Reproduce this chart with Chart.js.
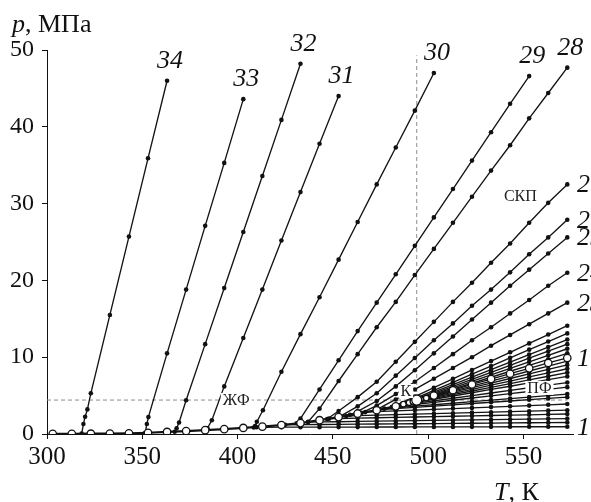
<!DOCTYPE html>
<html>
<head>
<meta charset="utf-8">
<script src="https://cdn.jsdelivr.net/npm/chart.js@4.4.0/dist/chart.umd.min.js"></script>
<style>
  html, body { margin: 0; padding: 0; background: #fff; }
  #wrap { width: 591px; height: 502px; position: relative; }
</style>
</head>
<body>
<div id="wrap"><canvas id="isochoreChart"></canvas></div>
<script>
// axis ticks
const tempTicks = [300, 350, 400, 450, 500, 550];
const pressTicks = [0, 10, 20, 30, 40, 50];

// saturation line (white circles), T in K, p in MPa
const satT = [303, 313, 323, 333, 343, 353, 363, 373, 383, 393, 403, 413, 423, 433, 443, 453, 463, 473, 483, 487, 490, 492, 494];
const satP = [0.01, 0.02, 0.04, 0.06, 0.1, 0.16, 0.27, 0.38, 0.5, 0.63, 0.79, 0.96, 1.17, 1.42, 1.8, 2.2, 2.65, 3.1, 3.6, 3.88, 4.08, 4.23, 4.42];

// critical point K
const critT = 494;
const critP = 4.42;

// isochores 1..34, [T, p]
const curve1 = [[410,0.88],[413,0.88],[423,0.89],[433,0.89],[443,0.89],[453,0.9],[463,0.9],[473,0.91],[483,0.91],[493,0.92],[503,0.92],[513,0.92],[523,0.93],[533,0.93],[543,0.94],[553,0.94],[563,0.95],[573,0.95]];
const curve2 = [[425,1.2],[433,1.22],[443,1.24],[453,1.26],[463,1.28],[473,1.3],[483,1.32],[493,1.34],[503,1.36],[513,1.38],[523,1.4],[533,1.42],[543,1.44],[553,1.46],[563,1.48],[573,1.5]];
const curve3 = [[437,1.55],[443,1.57],[453,1.6],[463,1.64],[473,1.67],[483,1.7],[493,1.74],[503,1.77],[513,1.8],[523,1.83],[533,1.87],[543,1.9],[553,1.93],[563,1.97],[573,2.0]];
const curve4 = [[448,2.0],[453,2.02],[463,2.07],[473,2.12],[483,2.17],[493,2.22],[503,2.26],[513,2.31],[523,2.36],[533,2.41],[543,2.46],[553,2.5],[563,2.55],[573,2.6]];
const curve5 = [[457,2.35],[463,2.39],[473,2.45],[483,2.52],[493,2.58],[503,2.65],[513,2.71],[523,2.78],[533,2.84],[543,2.91],[553,2.97],[563,3.04],[573,3.1]];
const curve6 = [[467,2.85],[473,2.91],[483,3.01],[493,3.11],[503,3.21],[513,3.31],[523,3.4],[533,3.5],[543,3.6],[553,3.7],[563,3.8],[573,3.9]];
const curve7 = [[474,3.15],[483,3.3],[493,3.47],[503,3.63],[513,3.8],[523,3.97],[533,4.13],[543,4.3],[553,4.47],[563,4.63],[573,4.8]];
const curve8 = [[477,3.3],[483,3.42],[493,3.62],[503,3.81],[513,4.01],[523,4.21],[533,4.41],[543,4.61],[553,4.8],[563,5.0],[573,5.2]];
const curve9 = [[481,3.5],[483,3.56],[493,3.84],[503,4.12],[513,4.4],[523,4.69],[533,4.97],[543,5.25],[553,5.53],[563,5.82],[573,6.1]];
const curve10 = [[484,3.67],[493,3.98],[503,4.32],[513,4.66],[523,5.0],[533,5.34],[543,5.68],[553,6.02],[563,6.36],[573,6.7]];
const curve11 = [[486,3.8],[493,4.1],[503,4.52],[513,4.95],[523,5.37],[533,5.8],[543,6.22],[553,6.65],[563,7.07],[573,7.5]];
const curve12 = [[488,3.92],[493,4.16],[503,4.64],[513,5.12],[523,5.6],[533,6.08],[543,6.56],[553,7.04],[563,7.52],[573,8.0]];
const curve13 = [[489.5,4.03],[493,4.22],[503,4.75],[513,5.29],[523,5.82],[533,6.36],[543,6.89],[553,7.43],[563,7.96],[573,8.5]];
const curve14 = [[491,4.15],[493,4.27],[503,4.86],[513,5.45],[523,6.04],[533,6.63],[543,7.23],[553,7.82],[563,8.41],[573,9.0]];
const curve15 = [[492.5,4.25],[493,4.28],[503,4.93],[513,5.58],[523,6.24],[533,6.89],[543,7.54],[553,8.2],[563,8.85],[573,9.5]];
// critical isochore (white circles)
const curve16 = [[494,4.42],[496,4.52],[499,4.68],[503,5.0],[513,5.7],[523,6.45],[533,7.15],[543,7.85],[553,8.55],[563,9.25],[573,9.9]];
const curve17 = [[492,4.2],[493,4.28],[503,5.06],[513,5.83],[523,6.61],[533,7.39],[543,8.17],[553,8.94],[563,9.72],[573,10.5]];
const curve18 = [[490,4.05],[493,4.3],[503,5.15],[513,6.0],[523,6.85],[533,7.7],[543,8.55],[553,9.4],[563,10.25],[573,11.1]];
const curve19 = [[488.5,3.95],[493,4.36],[503,5.28],[513,6.2],[523,7.11],[533,8.03],[543,8.95],[553,9.87],[563,10.78],[573,11.7]];
const curve20 = [[486.5,3.82],[493,4.46],[503,5.44],[513,6.42],[523,7.4],[533,8.38],[543,9.36],[553,10.34],[563,11.32],[573,12.3]];
const curve21 = [[484,3.65],[493,4.61],[503,5.67],[513,6.73],[523,7.79],[533,8.85],[543,9.91],[553,10.98],[563,12.04],[573,13.1]];
const curve22 = [[481,3.5],[483,3.73],[493,4.88],[503,6.03],[513,7.19],[523,8.34],[533,9.49],[543,10.64],[553,11.8],[563,12.95],[573,14.1]];
const curve23 = [[472,3.05],[483,4.5],[493,5.8],[503,7.2],[513,8.6],[523,10.0],[533,11.5],[543,12.9],[553,14.3],[563,15.7],[573,17.1]];
const curve24 = [[465,2.75],[473,3.7],[483,5.2],[493,6.8],[503,8.6],[513,10.4],[523,12.2],[533,13.9],[543,15.7],[553,17.45],[563,19.3],[573,21.0]];
const curve25 = [[459,2.5],[463,2.95],[473,4.3],[483,6.2],[493,8.3],[503,10.5],[513,12.7],[523,14.9],[533,17.1],[543,19.3],[553,21.4],[563,23.5],[573,25.6]];
const curve26 = [[453,2.2],[463,3.6],[473,5.3],[483,7.6],[493,9.9],[503,12.2],[513,14.4],[523,16.7],[533,18.8],[543,21.05],[553,23.4],[563,25.6],[573,27.9]];
const curve27 = [[447,1.95],[453,3.0],[463,4.8],[473,6.8],[483,9.4],[493,12.0],[503,14.6],[513,17.2],[523,19.7],[533,22.3],[543,24.8],[553,27.5],[563,30.1],[573,32.5]];
const curve28 = [[437,1.6],[443,3.3],[453,6.9],[463,10.4],[473,13.9],[483,17.2],[493,20.7],[503,24.1],[513,27.5],[523,30.9],[533,34.3],[543,37.6],[553,41.1],[563,44.4],[573,47.7]];
const curve29 = [[431,1.4],[433,2.0],[443,5.8],[453,9.6],[463,13.4],[473,17.1],[483,20.8],[493,24.5],[503,28.2],[513,31.9],[523,35.6],[533,39.3],[543,43.0],[553,46.6]];
const curve30 = [[408.5,0.85],[409.2,1.05],[410.1,1.6],[413.3,3.1],[423,8.1],[433,13.0],[443,17.8],[453,22.7],[463,27.6],[473,32.5],[483,37.3],[493,42.1],[503,47.0]];
const curve31 = [[383.5,0.5],[384.2,0.75],[386.5,1.8],[393,6.2],[403,12.5],[413,18.8],[423,25.2],[433,31.5],[443,37.8],[453,44.0]];
const curve32 = [[367,0.3],[368,0.75],[369.3,1.5],[373,4.4],[383,11.7],[393,19.0],[403,26.3],[413,33.6],[423,40.9],[433,48.2]];
const curve33 = [[351.5,0.17],[352.4,1.3],[353.2,2.2],[363,10.5],[373,18.8],[383,27.1],[393,35.3],[403,43.6]];
const curve34 = [[318.2,0.05],[319.1,1.3],[320,2.25],[321.2,3.2],[323,5.3],[333,15.5],[343,25.7],[353,35.9],[363,46.0]];

const curves = [curve1, curve2, curve3, curve4, curve5, curve6, curve7, curve8, curve9, curve10,
  curve11, curve12, curve13, curve14, curve15, curve16, curve17, curve18, curve19, curve20,
  curve21, curve22, curve23, curve24, curve25, curve26, curve27, curve28, curve29, curve30,
  curve31, curve32, curve33, curve34];

// which curves get a number label, and where
const topLabelNums = [28, 29, 30, 31, 32, 33, 34];
const rightLabelNums = [1, 16, 23, 24, 25, 26, 27];

const SERIF = '"Liberation Serif", "DejaVu Serif", serif';
const LINE = '#141414';

function toXY(pairs) {
    return pairs.map(([T, p]) => ({ x: T, y: p }));
}

const datasets = [];

// dashed guides through K
datasets.push({
    data: [{ x: 300, y: critP }, { x: 573, y: critP }],
    showLine: true, borderColor: '#8c8c8c', borderWidth: 1, borderDash: [4, 3],
    pointRadius: 0, order: 5
});
datasets.push({
    data: [{ x: critT, y: 0 }, { x: critT, y: 49.3 }],
    showLine: true, borderColor: '#8c8c8c', borderWidth: 1, borderDash: [4, 3],
    pointRadius: 0, order: 5
});

curves.forEach((c, i) => {
    const isCrit = (i === 15);
    datasets.push({
        data: toXY(c),
        showLine: true,
        borderColor: LINE,
        borderWidth: 1.35,
        pointRadius: isCrit ? function(ctx) {
            const T = c[ctx.dataIndex][0];
            if (T === critT) return 5;
            if (T < 500) return 2.8;
            return 3.7;
        } : 2.3,
        pointBackgroundColor: isCrit ? '#fff' : '#111',
        pointBorderColor: '#111',
        pointBorderWidth: isCrit ? 1.3 : 0,
        order: isCrit ? 1 : 3
    });
});

// saturation curve
datasets.push({
    data: satT.map((T, i) => ({ x: T, y: satP[i] })),
    showLine: true,
    borderColor: '#111',
    borderWidth: 2.2,
    pointRadius: function(ctx) {
        const T = satT[ctx.dataIndex];
        if (T === critT) return 5;
        if (T > 484) return 2.8;
        return 3.7;
    },
    pointBackgroundColor: '#fff',
    pointBorderColor: '#111',
    pointBorderWidth: 1.3,
    order: 0
});

function boxedText(ctx, text, cx, cy, font) {
    ctx.font = font;
    const w = ctx.measureText(text).width;
    ctx.fillStyle = '#fff';
    ctx.fillRect(cx - w / 2 - 2, cy - 7, w + 4, 14);
    ctx.fillStyle = '#222';
    ctx.textAlign = 'center';
    ctx.textBaseline = 'middle';
    ctx.fillText(text, cx, cy + 1);
}

const annotate = {
    id: 'annotate',
    afterDatasetsDraw(chart) {
        const { ctx, scales: { x, y } } = chart;
        ctx.save();

        // curve numbers above the liquid isochores
        ctx.font = 'italic 26px ' + SERIF;
        ctx.fillStyle = '#111';
        ctx.textAlign = 'center';
        ctx.textBaseline = 'alphabetic';
        topLabelNums.forEach(n => {
            const c = curves[n - 1];
            const end = c[c.length - 1];
            ctx.fillText(String(n), x.getPixelForValue(end[0]) + 3, y.getPixelForValue(end[1]) - 13);
        });

        // curve numbers at the right edge
        ctx.textAlign = 'left';
        ctx.textBaseline = 'middle';
        rightLabelNums.forEach(n => {
            const c = curves[n - 1];
            const end = c[c.length - 1];
            ctx.fillText(String(n), 577, y.getPixelForValue(end[1]) + 1);
        });

        // region labels
        const small = '16px ' + SERIF;
        boxedText(ctx, 'ЖФ', x.getPixelForValue(399.3), y.getPixelForValue(critP), small);
        boxedText(ctx, 'К', x.getPixelForValue(488.3), y.getPixelForValue(5.6), small);
        boxedText(ctx, 'ПФ', x.getPixelForValue(558.4), y.getPixelForValue(6.0), small);
        ctx.font = small;
        ctx.fillStyle = '#222';
        ctx.textAlign = 'center';
        ctx.fillText('СКП', x.getPixelForValue(548.4), y.getPixelForValue(30.9));

        // axis titles
        ctx.fillStyle = '#111';
        ctx.textAlign = 'left';
        ctx.textBaseline = 'alphabetic';
        ctx.font = 'italic 26px ' + SERIF;
        ctx.fillText('p', 12, 32);
        let w = ctx.measureText('p').width;
        ctx.font = '26px ' + SERIF;
        ctx.fillText(', МПа', 12 + w, 32);

        ctx.font = 'italic 26px ' + SERIF;
        ctx.fillText('T', 494, 500);
        w = ctx.measureText('T').width;
        ctx.font = '26px ' + SERIF;
        ctx.fillText(', К', 494 + w, 500);

        ctx.restore();
    }
};

new Chart(document.getElementById('isochoreChart'), {
    type: 'scatter',
    data: { datasets },
    options: {
        responsive: true,
        maintainAspectRatio: false,
        animation: false,
        devicePixelRatio: 1,
        layout: { padding: { top: 50, right: 18, left: 0, bottom: 0 } },
        plugins: { legend: { display: false }, tooltip: { enabled: false } },
        scales: {
            x: {
                type: 'linear',
                min: 300,
                max: 576,
                afterFit: s => { s.height = 68; },
                afterBuildTicks: s => { s.ticks = tempTicks.map(v => ({ value: v })); },
                border: { display: true, color: '#111', width: 1 },
                grid: { drawOnChartArea: false, drawTicks: true, tickLength: 5, color: '#111' },
                ticks: { color: '#111', padding: 3, font: { family: SERIF, size: 25 } }
            },
            y: {
                type: 'linear',
                min: 0,
                max: 50,
                afterFit: s => { s.width = 47; },
                afterBuildTicks: s => { s.ticks = pressTicks.map(v => ({ value: v })); },
                border: { display: true, color: '#111', width: 1 },
                grid: { drawOnChartArea: false, drawTicks: true, tickLength: 5, color: '#111' },
                ticks: { color: '#111', padding: 8, font: { family: SERIF, size: 24 } }
            }
        }
    },
    plugins: [annotate]
});
</script>
</body>
</html>
